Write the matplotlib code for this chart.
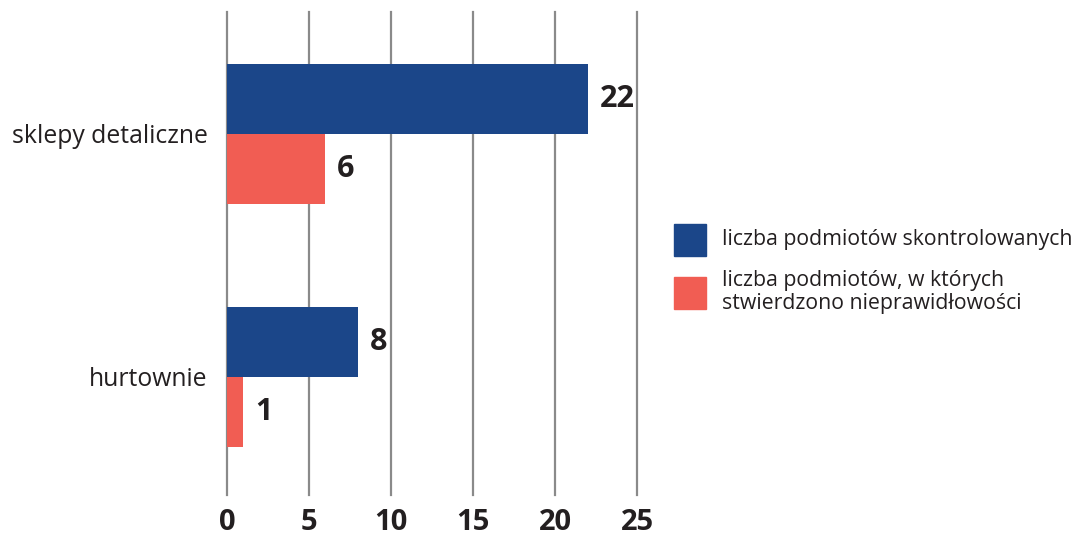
import numpy as np
import matplotlib.pyplot as plt
from matplotlib.patches import Rectangle

plt.rcParams['font.family'] = ['Open Sans', 'DejaVu Sans']

# data
categories = ['sklepy detaliczne', 'hurtownie']
skontrolowane = [22, 8]
nieprawidlowosci = [6, 1]
series_labels = ['liczba podmiotów skontrolowanych',
                 'liczba podmiotów, w których\nstwierdzono nieprawidłowości']
xticks = [0, 5, 10, 15, 20, 25]

blue = '#1b4689'
red = '#f15d53'
txt = '#231f20'

fig = plt.figure(figsize=(10.75, 5.4), dpi=100)
ax = fig.add_axes([227 / 1075, 1 - 495 / 540, 410 / 1075, 483 / 540])

y = np.arange(len(categories))
h = 0.288
ax.barh(y - h / 2, skontrolowane, height=h, color=blue, zorder=3)
ax.barh(y + h / 2, nieprawidlowosci, height=h, color=red, zorder=3)

for yy, v in zip(y - h / 2, skontrolowane):
    ax.annotate(str(v), (v, yy), xytext=(8.5, 0), textcoords='offset points',
                va='center', ha='left', fontsize=22, fontweight='bold', color=txt)
for yy, v in zip(y + h / 2, nieprawidlowosci):
    ax.annotate(str(v), (v, yy), xytext=(8.5, 0), textcoords='offset points',
                va='center', ha='left', fontsize=22, fontweight='bold', color=txt)

ax.set_xlim(0, 25)
ax.set_ylim(1.486, -0.502)
ax.set_xticks(xticks)
ax.set_xticklabels([str(t) for t in xticks], fontsize=21, fontweight='bold', color=txt)
ax.set_yticks(y)
ax.set_yticklabels(categories, fontsize=17.8, color=txt)
ax.tick_params(axis='x', length=0, pad=9)
ax.tick_params(axis='y', length=0, pad=14)
ax.xaxis.grid(True, color='#8a8a8a', linewidth=1.6, zorder=0)
for gl in ax.get_xgridlines():
    gl.set_clip_on(False)
for s in ax.spines.values():
    s.set_visible(False)

# legend
sq_w = 32 / 1075
sq_h = 32 / 540
centers = [240, 293]
colors = [blue, red]
for c, col, lab in zip(centers, colors, series_labels):
    fig.patches.append(Rectangle((674 / 1075, 1 - c / 540 - sq_h / 2), sq_w, sq_h,
                                 transform=fig.transFigure, color=col))
    fig.text(722 / 1075, 1 - (c - 1) / 540, lab, fontsize=15.3, color=txt,
             va='center', ha='left', linespacing=1.15)

fig.savefig('out.png', dpi=100)
